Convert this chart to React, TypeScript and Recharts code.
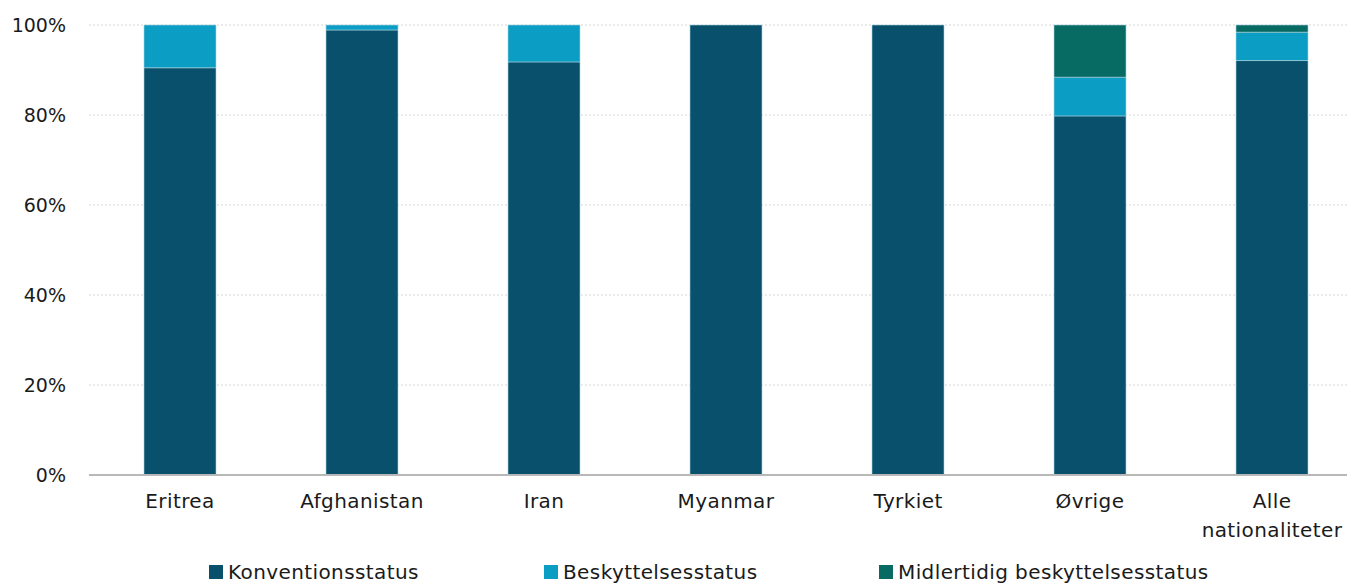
import { BarChart, Bar, XAxis, YAxis, CartesianGrid, Legend } from 'recharts'

const categories = ['Eritrea', 'Afghanistan', 'Iran', 'Myanmar', 'Tyrkiet', 'Øvrige', 'Alle\nnationaliteter']
const konvention = [90.5, 98.9, 91.8, 100, 100, 79.8, 92.1]
const beskyttelse = [9.5, 1.1, 8.2, 0, 0, 8.6, 6.3]
const midlertidig = [0, 0, 0, 0, 0, 11.6, 1.6]
const yTicks = [0, 20, 40, 60, 80, 100]

const SERIES = [
  { key: 'konv', name: 'Konventionsstatus', color: '#08506b' },
  { key: 'besk', name: 'Beskyttelsesstatus', color: '#0c9dc5' },
  { key: 'midl', name: 'Midlertidig beskyttelsesstatus', color: '#076a63' },
]

const FONT = '"DejaVu Sans", sans-serif'

const data = categories.map((name, i) => ({
  name,
  konv: konvention[i],
  besk: beskyttelse[i],
  midl: midlertidig[i],
}))

function CategoryTick({ x, y, payload }: any) {
  const lines = String(payload.value).split('\n')
  return (
    <text
      x={x}
      y={y}
      textAnchor="middle"
      fill="#1a1a1a"
      fontSize={20}
      letterSpacing={0.4}
      fontFamily={FONT}
    >
      {lines.map((line, i) => (
        <tspan key={i} x={x} dy={i === 0 ? '0.68em' : '1.45em'}>
          {line}
        </tspan>
      ))}
    </text>
  )
}

function LegendRow() {
  return (
    <div style={{ display: 'flex', fontFamily: FONT, fontSize: 20, letterSpacing: 0.4, color: '#1a1a1a' }}>
      {SERIES.map((s) => (
        <div key={s.key} style={{ display: 'flex', alignItems: 'center', gap: 5, width: 335 }}>
          <span style={{ width: 14, height: 14, background: s.color, display: 'inline-block' }} />
          <span style={{ whiteSpace: 'nowrap' }}>{s.name}</span>
        </div>
      ))}
    </div>
  )
}

export default function App() {
  return (
    <div style={{ width: 1347, height: 577, overflow: 'hidden' }}>
      <BarChart
        width={1360}
        height={577}
        data={data}
        margin={{ top: 17, right: 5, left: 0, bottom: 0 }}
        barSize={72}
      >
        <CartesianGrid vertical={false} stroke="#d6d6d6" strokeDasharray="2 2" />
        <XAxis
          dataKey="name"
          tick={<CategoryTick />}
          tickLine={false}
          axisLine={{ stroke: '#b8b8b8', strokeWidth: 2 }}
          tickSize={0}
          tickMargin={19}
          height={86}
          interval={0}
        />
        <YAxis
          domain={[0, 100]}
          ticks={yTicks}
          tickFormatter={(v: number) => `${v}%`}
          tick={{ fill: '#1a1a1a', fontSize: 19, fontFamily: FONT }}
          axisLine={false}
          tickLine={false}
          tickSize={0}
          tickMargin={23}
          width={81}
        />
        <Legend
          content={<LegendRow />}
          wrapperStyle={{ left: 201, bottom: 1, width: 'auto' }}
        />
        {SERIES.map((s) => (
          <Bar
            key={s.key}
            dataKey={s.key}
            name={s.name}
            stackId="a"
            fill={s.color}
            stroke="#a9d3df"
            strokeWidth={0.6}
            isAnimationActive={false}
          />
        ))}
      </BarChart>
    </div>
  )
}
